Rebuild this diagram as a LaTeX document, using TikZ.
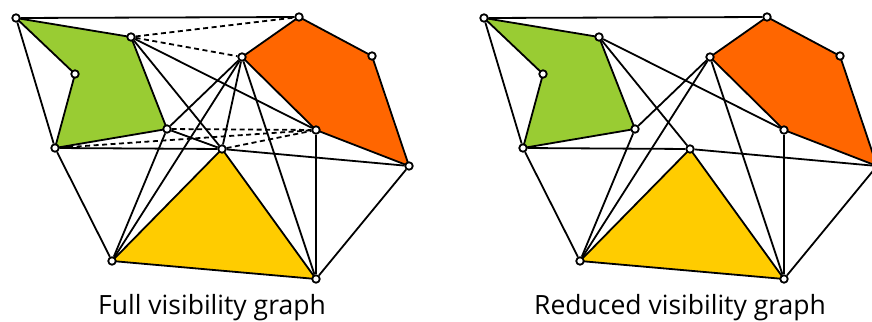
\documentclass[tikz,border=0pt]{standalone}
\usepackage{fontspec}
\setmainfont{Open Sans}
\usetikzlibrary{backgrounds}

\definecolor{leaf}{HTML}{99CC33}
\definecolor{flame}{HTML}{FF6600}
\definecolor{amber}{HTML}{FFCC00}

\begin{document}
\begin{tikzpicture}[x=1pt, y=-1pt,
        vtx/.style={circle, draw, fill=white, line width=1.8pt,
          minimum size=7.5pt, inner sep=0pt},
        edge/.style={line width=1.8pt},
        hidden/.style={line width=1.8pt, dash pattern=on 5pt off 3.5pt},
        obst/.style={draw, line width=1.8pt, line join=round},
        caption/.style={font=\fontsize{26.5}{32}\selectfont, anchor=base},
      ]
        \def\dx{468}  % offset of the reduced graph

        \useasboundingbox (0,0) rectangle (872,321);
        \clip (0,0) rectangle (872,321);

        % Full visibility graph: vertices
        \node[vtx] (fa) at (16, 18) {};
        \node[vtx] (fb) at (131, 37) {};
        \node[vtx] (fc) at (75, 74) {};
        \node[vtx] (fd) at (167,129) {};
        \node[vtx] (fe) at (55,148) {};
        \node[vtx] (ff) at (299, 17) {};
        \node[vtx] (fg) at (242, 57) {};
        \node[vtx] (fh) at (372, 56) {};
        \node[vtx] (fi) at (316,130) {};
        \node[vtx] (fj) at (222,149) {};
        \node[vtx] (fk) at (409,166) {};
        \node[vtx] (fl) at (112,261) {};
        \node[vtx] (fm) at (316,279) {};

        \begin{pgfonlayer}{background}
          \draw[obst, fill=leaf]  (fa.center) -- (fb.center) -- (fd.center) -- (fe.center) -- (fc.center) -- cycle;
          \draw[obst, fill=flame] (fg.center) -- (ff.center) -- (fh.center) -- (fk.center) -- (fi.center) -- cycle;
          \draw[obst, fill=amber] (fj.center) -- (fm.center) -- (fl.center) -- cycle;
        \end{pgfonlayer}

        \draw[edge] (fa) -- (ff);
        \draw[edge] (fa) -- (fe);
        \draw[edge] (fe) -- (fl);
        \draw[edge] (fe) -- (fj);
        \draw[edge] (fd) -- (fl);
        \draw[edge] (fd) -- (fg);
        \draw[edge] (fd) -- (fj);
        \draw[edge] (fg) -- (fl);
        \draw[edge] (fg) -- (fj);
        \draw[edge] (fg) -- (fm);
        \draw[edge] (fb) -- (fj);
        \draw[edge] (fb) -- (fi);
        \draw[edge] (fj) -- (fk);
        \draw[edge] (fi) -- (fm);
        \draw[edge] (fk) -- (fm);
        \draw[hidden] (fb) -- (ff);
        \draw[hidden] (fb) -- (fg);
        \draw[hidden] (fd) -- (fi);
        \draw[hidden] (fe) -- (fi);
        \draw[hidden] (fj) -- (fi);

        \node[caption] (fcap) at (212,314) {Full visibility graph};

        % Reduced visibility graph: vertices
        \node[vtx] (ra) at (\dx+16, 18) {};
        \node[vtx] (rb) at (\dx+131, 37) {};
        \node[vtx] (rc) at (\dx+75, 74) {};
        \node[vtx] (rd) at (\dx+167,129) {};
        \node[vtx] (re) at (\dx+55,148) {};
        \node[vtx] (rf) at (\dx+299, 17) {};
        \node[vtx] (rg) at (\dx+242, 57) {};
        \node[vtx] (rh) at (\dx+372, 56) {};
        \node[vtx] (ri) at (\dx+316,130) {};
        \node[vtx] (rj) at (\dx+222,149) {};
        \node[vtx] (rk) at (\dx+409,166) {};
        \node[vtx] (rl) at (\dx+112,261) {};
        \node[vtx] (rm) at (\dx+316,279) {};

        \begin{pgfonlayer}{background}
          \draw[obst, fill=leaf]  (ra.center) -- (rb.center) -- (rd.center) -- (re.center) -- (rc.center) -- cycle;
          \draw[obst, fill=flame] (rg.center) -- (rf.center) -- (rh.center) -- (rk.center) -- (ri.center) -- cycle;
          \draw[obst, fill=amber] (rj.center) -- (rm.center) -- (rl.center) -- cycle;
        \end{pgfonlayer}

        \draw[edge] (ra) -- (rf);
        \draw[edge] (ra) -- (re);
        \draw[edge] (re) -- (rl);
        \draw[edge] (re) -- (rj);
        \draw[edge] (rd) -- (rl);
        \draw[edge] (rd) -- (rg);
        \draw[edge] (rg) -- (rl);
        \draw[edge] (rg) -- (rm);
        \draw[edge] (rb) -- (rj);
        \draw[edge] (rb) -- (ri);
        \draw[edge] (rj) -- (rk);
        \draw[edge] (ri) -- (rm);
        \draw[edge] (rk) -- (rm);

        \node[caption] (rcap) at (\dx+212,314) {Reduced visibility graph};
      \end{tikzpicture}
\end{document}
